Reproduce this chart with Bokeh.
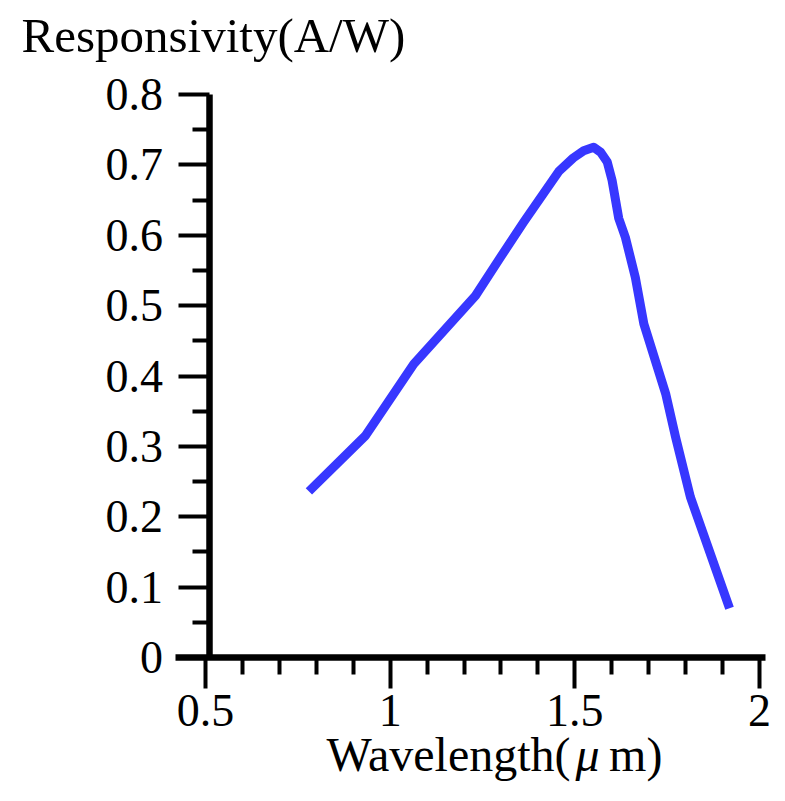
from bokeh.plotting import figure
from bokeh.models import LinearAxis, FixedTicker, Range1d, Label
from bokeh.embed import file_html
from bokeh.resources import INLINE

# ---- data ----
wavelength = [0.780, 0.933, 1.064, 1.231, 1.299, 1.362, 1.457, 1.496, 1.524, 1.551,
              1.570, 1.588, 1.601, 1.619, 1.637, 1.664, 1.687, 1.746, 1.773, 1.813, 1.919]
responsivity = [0.236, 0.315, 0.417, 0.514, 0.569, 0.619, 0.691, 0.710, 0.720, 0.725,
                0.718, 0.704, 0.678, 0.624, 0.597, 0.540, 0.474, 0.375, 0.313, 0.228, 0.070]

x_ticks = [0.5, 1.0, 1.5, 2.0]
x_tick_labels = ["0.5", "1", "1.5", "2"]
x_minor = [0.6, 0.7, 0.8, 0.9, 1.1, 1.2, 1.3, 1.4, 1.6, 1.7, 1.8, 1.9]
y_ticks = [0.0, 0.1, 0.2, 0.3, 0.4, 0.5, 0.6, 0.7, 0.8]
y_tick_labels = ["0", "0.1", "0.2", "0.3", "0.4", "0.5", "0.6", "0.7", "0.8"]
y_minor = [0.05, 0.15, 0.25, 0.35, 0.45, 0.55, 0.65, 0.75]

x_title_parts = ["Wavelength(", "\u03bc", "m)"]
y_title = "Responsivity(A/W)"

FONT = "Liberation Serif"
W, H = 777, 785

p = figure(width=W, height=H, output_backend="svg", toolbar_location=None,
           x_range=Range1d(-0.0551, 2.0489), y_range=Range1d(-0.1819, 0.9336),
           x_axis_location=None, y_axis_location=None,
           min_border=0, min_border_left=0, min_border_right=0,
           min_border_top=0, min_border_bottom=0)
p.outline_line_color = None
p.xgrid.visible = False
p.ygrid.visible = False
p.background_fill_color = "white"
p.border_fill_color = "white"

def style_axis(ax):
    ax.axis_line_width = 6.5
    ax.axis_line_color = "black"
    ax.major_tick_line_width = 4
    ax.minor_tick_line_width = 4
    ax.major_tick_in = 0
    ax.minor_tick_in = 0
    ax.major_tick_out = 31
    ax.minor_tick_out = 17
    ax.major_label_text_font = FONT
    ax.major_label_text_font_size = "46px"
    ax.major_label_text_color = "black"

xaxis = LinearAxis(fixed_location=0,
                   ticker=FixedTicker(ticks=x_ticks, minor_ticks=x_minor),
                   bounds=(0.419, 2.016))
style_axis(xaxis)
xaxis.major_label_standoff = 7
xaxis.major_label_overrides = {t: l for t, l in zip(x_ticks, x_tick_labels)}
p.add_layout(xaxis, "below")

yaxis = LinearAxis(fixed_location=0.512,
                   ticker=FixedTicker(ticks=y_ticks, minor_ticks=y_minor),
                   bounds=(0, 0.8))
style_axis(yaxis)
yaxis.major_label_standoff = 16
yaxis.major_label_overrides = {t: l for t, l in zip(y_ticks, y_tick_labels)}
p.add_layout(yaxis, "left")

p.line(wavelength, responsivity, line_width=9, line_color="#3737FF", line_join="round")

# titles (screen units measured from the bottom-left of the canvas)
p.add_layout(Label(x=21, y=H - 35, x_units="screen", y_units="screen", text=y_title,
                   text_font=FONT, text_font_size="49px", text_color="black",
                   text_baseline="middle", text_align="left"))
fs = 48
x0 = 326
w1 = 5.165 * fs
ty = H - 754
p.add_layout(Label(x=x0, y=ty, x_units="screen", y_units="screen", text=x_title_parts[0],
                   text_font=FONT, text_font_size=f"{fs}px", text_color="black",
                   text_baseline="middle", text_align="left"))
p.add_layout(Label(x=x0 + w1 + 1, y=ty, x_units="screen", y_units="screen", text=x_title_parts[1],
                   text_font=FONT, text_font_size=f"{fs}px", text_font_style="italic",
                   text_color="black", text_baseline="middle", text_align="left"))
p.add_layout(Label(x=x0 + w1 + 0.576 * fs + 7, y=ty, x_units="screen", y_units="screen",
                   text=x_title_parts[2],
                   text_font=FONT, text_font_size=f"{fs}px", text_color="black",
                   text_baseline="middle", text_align="left"))

open("out.html", "w").write(file_html(p, INLINE))
